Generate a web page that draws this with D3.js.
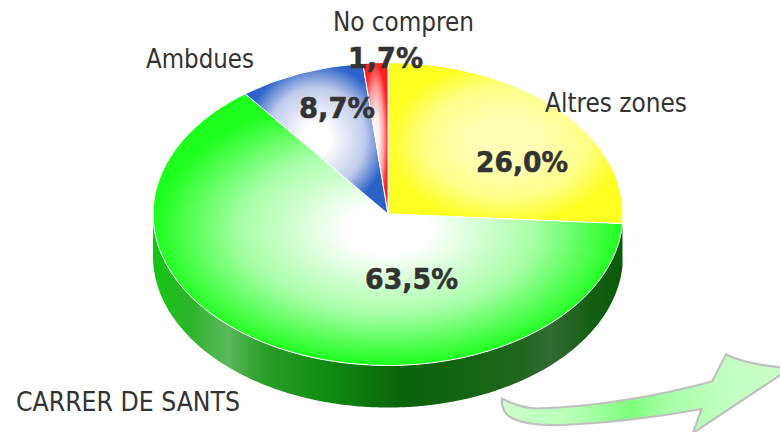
<!DOCTYPE html>
<html><head><meta charset="utf-8">
<style>html,body{margin:0;padding:0;background:#fff;overflow:hidden}svg{display:block}</style>
<script src="https://cdn.jsdelivr.net/npm/d3@7"></script></head>
<body><svg id="c" width="780" height="432"></svg>
<script>
const categories = ["Altres zones","CARRER DE SANTS","Ambdues","No compren"];
const values = [26.0,63.5,8.7,1.7];
const valueLabels = ["26,0%","63,5%","8,7%","1,7%"];
const edgeColors = ["#ffff22","#1cff1c","#2a62c8","#ff1f1f"];
const midColors = ["#ffff88","#a8ffa8","#c0cbec","#ff9a9a"];
const coreColors = ["#ffffb4","#ffffff","#ffffff","#fff0f0"];
const coreEnds = [.3,.18,.2,.3];
const midStops = [.68,.62,.68,.68];
const nameBoxes = [[616,112],[128,411],[200,68],[403.5,31]];
const nameWidths = [142,224,108,141];
const valueBoxes = [[522,172],[411.5,289],[337,118],[385.5,68]];
const valueWidths = [92,93,76,75];
const sideStops = [[153,"#12c612"],[190,"#2cb52c"],[228,"#5cb85c"],[262,"#2ba02b"],[330,"#0f8a0f"],[400,"#0a640a"],[470,"#146414"],[520,"#1f661f"],[550,"#336a33"],[590,"#145f14"],[623,"#0b5a0b"]];

const W=780,H=432,cx=388,cy=214,rx=235,ry=151.5,depth=42;
const svg=d3.select("#c");
const defs=svg.append("defs");
const pie=d3.pie().sort(null).value(d=>d)(values);
const arc=d3.arc().innerRadius(0).outerRadius(1);

// side wall
const sx=d3.scaleLinear().domain([-1,1]).range([cx-rx,cx+rx]);
const sy=d3.scaleLinear().domain([-1,1]).range([cy-ry,cy+ry]);
const wall=d3.area().x(a=>sx(Math.sin(a))).y0(a=>sy(-Math.cos(a))).y1(a=>sy(-Math.cos(a))+depth);
const wallAngles=d3.range(181).map(i=>pie[0].endAngle+(3*Math.PI/2-pie[0].endAngle)*i/180);
const g=defs.append("linearGradient").attr("id","side").attr("gradientUnits","userSpaceOnUse")
  .attr("x1",cx-rx).attr("x2",cx+rx).attr("y1",0).attr("y2",0);
sideStops.forEach(s=>g.append("stop").attr("offset",(s[0]-cx+rx)/(2*rx)).attr("stop-color",s[1]));
svg.append("path").attr("d",wall(wallAngles)).attr("fill","url(#side)");

// top slices
pie.forEach((p,i)=>{
  const rg=defs.append("radialGradient").attr("id","s"+i).attr("cx",.5).attr("cy",.5).attr("r",.5);
  rg.append("stop").attr("offset",0).attr("stop-color",coreColors[i]);
  rg.append("stop").attr("offset",coreEnds[i]).attr("stop-color",coreColors[i]);
  rg.append("stop").attr("offset",midStops[i]).attr("stop-color",midColors[i]);
  rg.append("stop").attr("offset",1).attr("stop-color",edgeColors[i]);
});
svg.append("g").attr("transform",`translate(${cx},${cy}) scale(${rx},${ry})`)
 .selectAll("path").data(pie).join("path")
 .attr("d",arc).attr("fill",(d,i)=>`url(#s${i})`)
 .attr("stroke","#fff").attr("stroke-width",1).attr("vector-effect","non-scaling-stroke");

// arrow decoration
const ag=defs.append("linearGradient").attr("id","arrow").attr("gradientUnits","userSpaceOnUse")
 .attr("x1",505).attr("y1",405).attr("x2",770).attr("y2",385);
[[0,"#ccffcc"],[.26,"#b4ffb4"],[.47,"#7dff7d"],[.62,"#a8ffa8"],[.82,"#c0ffc0"],[1,"#c8ffc8"]]
 .forEach(s=>ag.append("stop").attr("offset",s[0]).attr("stop-color",s[1]));
svg.append("path")
 .attr("d","M502,398.5 Q520,408 537,408.5 Q620,406 712,381.5 L726,354.5 Q745,364 782,367.5 L782,374 L693,433 L701.5,409 Q630,422 563,425 Q525,426 510,417 Q501,411 502,398.5 Z")
 .attr("fill","url(#arrow)").attr("stroke","#c0c0c0").attr("stroke-width",2.2).attr("stroke-linejoin","miter");

// labels
const font='"DejaVu Sans Condensed","DejaVu Sans",sans-serif';
svg.append("g").selectAll("text").data(categories).join("text")
 .attr("x",(d,i)=>nameBoxes[i][0]).attr("y",(d,i)=>nameBoxes[i][1]).attr("text-anchor","middle")
 .attr("textLength",(d,i)=>nameWidths[i]).attr("lengthAdjust","spacingAndGlyphs")
 .attr("font-family",font).attr("font-size",26).attr("fill","#333").text(d=>d);
svg.append("g").selectAll("text").data(valueLabels).join("text")
 .attr("x",(d,i)=>valueBoxes[i][0]).attr("y",(d,i)=>valueBoxes[i][1]).attr("text-anchor","middle")
 .attr("textLength",(d,i)=>valueWidths[i]).attr("lengthAdjust","spacingAndGlyphs")
 .attr("font-family",font).attr("font-size",29).attr("font-weight","bold").attr("fill","#333")
 .attr("stroke","#333").attr("stroke-width",.5).text(d=>d);
</script></body></html>
